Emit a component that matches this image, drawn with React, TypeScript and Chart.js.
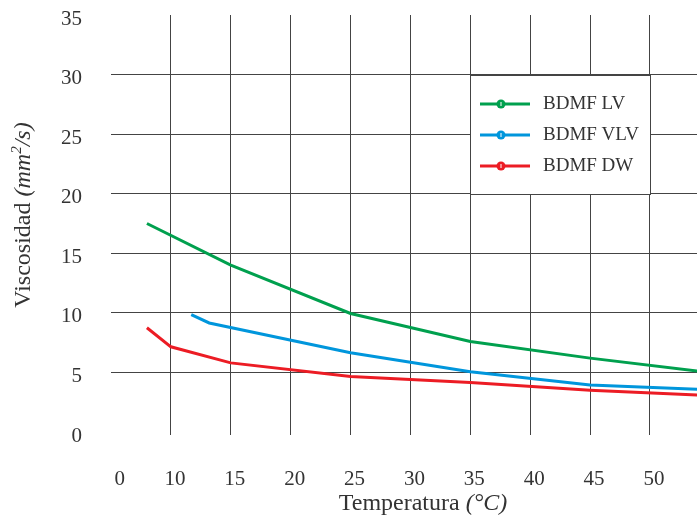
import React, { useEffect, useRef } from 'react';
import { Chart, registerables } from 'chart.js';

Chart.register(...registerables);

// ---- data ----
const seriesNames = ['BDMF LV', 'BDMF VLV', 'BDMF DW'];
const seriesColors = ['#00a04e', '#0096dc', '#ec1c24'];

const temperatureLV = [8, 15, 25, 35, 45, 55];
const viscosityLV = [17.5, 14.0, 9.95, 7.6, 6.2, 5.0];

const temperatureVLV = [11.7, 13.2, 25, 35, 45, 55];
const viscosityVLV = [9.85, 9.15, 6.65, 5.05, 3.95, 3.55];

const temperatureDW = [8, 10, 15, 25, 35, 45, 55];
const viscosityDW = [8.75, 7.15, 5.8, 4.65, 4.15, 3.5, 3.05];

const xTickValues = [5.4, 10, 15, 20, 25, 30, 35, 40, 45, 50];
const xTickLabels = ['0', '10', '15', '20', '25', '30', '35', '40', '45', '50'];
const yMin = 0;
const yMax = 35;
const yStep = 5;
const xMin = 5;
const xMax = 53.93;

const xTitleMain = 'Temperatura ';
const xTitleUnit = '(°C)';
const yTitleMain = 'Viscosidad ';
const yTitleUnitA = '(mm';
const yTitleSup = '2';
const yTitleUnitB = '/s)';

const FONT = "'Liberation Serif', 'Times New Roman', serif";
const TEXT = '#333333';
const GRID = '#444444';

const toPoints = (xs: number[], ys: number[]) => xs.map((x, i) => ({ x, y: ys[i] }));

const overlayPlugin = {
  id: 'overlay',
  afterDraw(chart: any) {
    const ctx = chart.ctx as CanvasRenderingContext2D;
    const xs = chart.scales.x;
    const ys = chart.scales.y;
    ctx.save();

    // ---- legend box ----
    const lx0 = Math.round(xs.getPixelForValue(35));
    const lx1 = Math.round(xs.getPixelForValue(50));
    const ly0 = Math.round(ys.getPixelForValue(30));
    const ly1 = Math.round(ys.getPixelForValue(20));
    ctx.fillStyle = '#ffffff';
    ctx.fillRect(lx0 + 1, ly0 + 1, lx1 - lx0 - 1, ly1 - ly0 - 1);
    ctx.strokeStyle = GRID;
    ctx.lineWidth = 1;
    ctx.beginPath();
    ctx.moveTo(lx0 + 0.5, ly0);
    ctx.lineTo(lx0 + 0.5, ly1 + 1);
    ctx.moveTo(lx1 + 0.5, ly0);
    ctx.lineTo(lx1 + 0.5, ly1 + 1);
    ctx.moveTo(lx0, ly0 + 0.5);
    ctx.lineTo(lx1 + 1, ly0 + 0.5);
    ctx.moveTo(lx0, ly1 + 0.5);
    ctx.lineTo(lx1 + 1, ly1 + 0.5);
    ctx.stroke();

    seriesNames.forEach((name, i) => {
      const y = ly0 + 29 + i * 31;
      const col = seriesColors[i];
      ctx.strokeStyle = col;
      ctx.lineWidth = 3;
      ctx.beginPath();
      ctx.moveTo(lx0 + 10, y);
      ctx.lineTo(lx0 + 60, y);
      ctx.stroke();
      ctx.fillStyle = col;
      ctx.beginPath();
      ctx.arc(lx0 + 31, y, 4.5, 0, Math.PI * 2);
      ctx.fill();
      ctx.strokeStyle = '#ffffff';
      ctx.lineWidth = 1;
      ctx.beginPath();
      ctx.moveTo(lx0 + 31, y - 2);
      ctx.lineTo(lx0 + 31, y + 2);
      ctx.stroke();
      ctx.fillStyle = TEXT;
      ctx.font = `19px ${FONT}`;
      ctx.textAlign = 'left';
      ctx.textBaseline = 'middle';
      ctx.fillText(name, lx0 + 73, y);
    });

    // ---- x title ----
    ctx.fillStyle = TEXT;
    ctx.textBaseline = 'middle';
    ctx.textAlign = 'left';
    const normal = `24px ${FONT}`;
    const italic = `italic 24px ${FONT}`;
    ctx.font = normal;
    const wA = ctx.measureText(xTitleMain).width;
    ctx.font = italic;
    const wB = ctx.measureText(xTitleUnit).width;
    const xc = 423;
    const xStart = xc - (wA + wB) / 2;
    ctx.font = normal;
    ctx.fillText(xTitleMain, xStart, 504);
    ctx.font = italic;
    ctx.fillText(xTitleUnit, xStart + wA, 504);

    // ---- y title ----
    ctx.save();
    ctx.translate(24, 215);
    ctx.rotate(-Math.PI / 2);
    const supFont = `italic 15px ${FONT}`;
    ctx.font = normal;
    const y1 = ctx.measureText(yTitleMain).width;
    ctx.font = italic;
    const y2 = ctx.measureText(yTitleUnitA).width;
    ctx.font = supFont;
    const y3 = ctx.measureText(yTitleSup).width;
    ctx.font = italic;
    const y4 = ctx.measureText(yTitleUnitB).width;
    let cx = -(y1 + y2 + y3 + y4) / 2;
    ctx.font = normal;
    ctx.fillText(yTitleMain, cx, 0);
    cx += y1;
    ctx.font = italic;
    ctx.fillText(yTitleUnitA, cx, 0);
    cx += y2;
    ctx.font = supFont;
    ctx.fillText(yTitleSup, cx, -7);
    cx += y3;
    ctx.font = italic;
    ctx.fillText(yTitleUnitB, cx, 0);
    ctx.restore();

    ctx.restore();
  },
};

export default function App() {
  const ref = useRef<HTMLCanvasElement | null>(null);

  useEffect(() => {
    if (!ref.current) return;
    const chart = new Chart(ref.current, {
      type: 'line',
      data: {
        datasets: [
          { label: seriesNames[0], data: toPoints(temperatureLV, viscosityLV), borderColor: seriesColors[0] },
          { label: seriesNames[1], data: toPoints(temperatureVLV, viscosityVLV), borderColor: seriesColors[1] },
          { label: seriesNames[2], data: toPoints(temperatureDW, viscosityDW), borderColor: seriesColors[2] },
        ].map((d) => ({ ...d, borderWidth: 3, pointRadius: 0, fill: false, tension: 0 })),
      },
      options: {
        responsive: false,
        devicePixelRatio: 1,
        animation: false,
        layout: { padding: { top: 15, right: 0, bottom: 0, left: 0 } },
        plugins: { legend: { display: false }, tooltip: { enabled: false } },
        scales: {
          x: {
            type: 'linear',
            min: xMin,
            max: xMax,
            afterBuildTicks: (scale: any) => {
              scale.ticks = xTickValues.map((v) => ({ value: v }));
            },
            afterFit: (scale: any) => {
              scale.height = 85;
              scale.paddingLeft = 0;
              scale.paddingRight = 0;
            },
            border: { display: false },
            grid: {
              color: (c: any) => (c.index === 0 ? 'rgba(0,0,0,0)' : GRID),
              tickColor: (c: any) => (c.index === 0 ? 'rgba(0,0,0,0)' : GRID),
              lineWidth: 1,
              drawTicks: true,
              tickLength: 3,
            },
            ticks: {
              callback: (_v: any, i: number) => xTickLabels[i],
              font: { family: FONT, size: 21 },
              color: TEXT,
              padding: 32,
              labelOffset: 4,
              maxRotation: 0,
              autoSkip: false,
            },
          },
          y: {
            type: 'linear',
            min: yMin,
            max: yMax,
            afterFit: (scale: any) => {
              scale.width = 111;
              scale.paddingTop = 0;
              scale.paddingBottom = 0;
            },
            border: { display: false },
            grid: {
              color: (c: any) =>
                c.tick && (c.tick.value === yMin || c.tick.value === yMax) ? 'rgba(0,0,0,0)' : GRID,
              lineWidth: 1,
              drawTicks: false,
            },
            ticks: {
              stepSize: yStep,
              font: { family: FONT, size: 21 },
              color: TEXT,
              padding: 29,
              labelOffset: 4,
            },
          },
        },
      },
      plugins: [overlayPlugin],
    } as any);
    return () => chart.destroy();
  }, []);

  return (
    <div style={{ position: 'absolute', left: 0, top: 0, width: 697, height: 517, overflow: 'hidden' }}>
      <canvas ref={ref} width={697} height={517} style={{ display: 'block' }} />
    </div>
  );
}
